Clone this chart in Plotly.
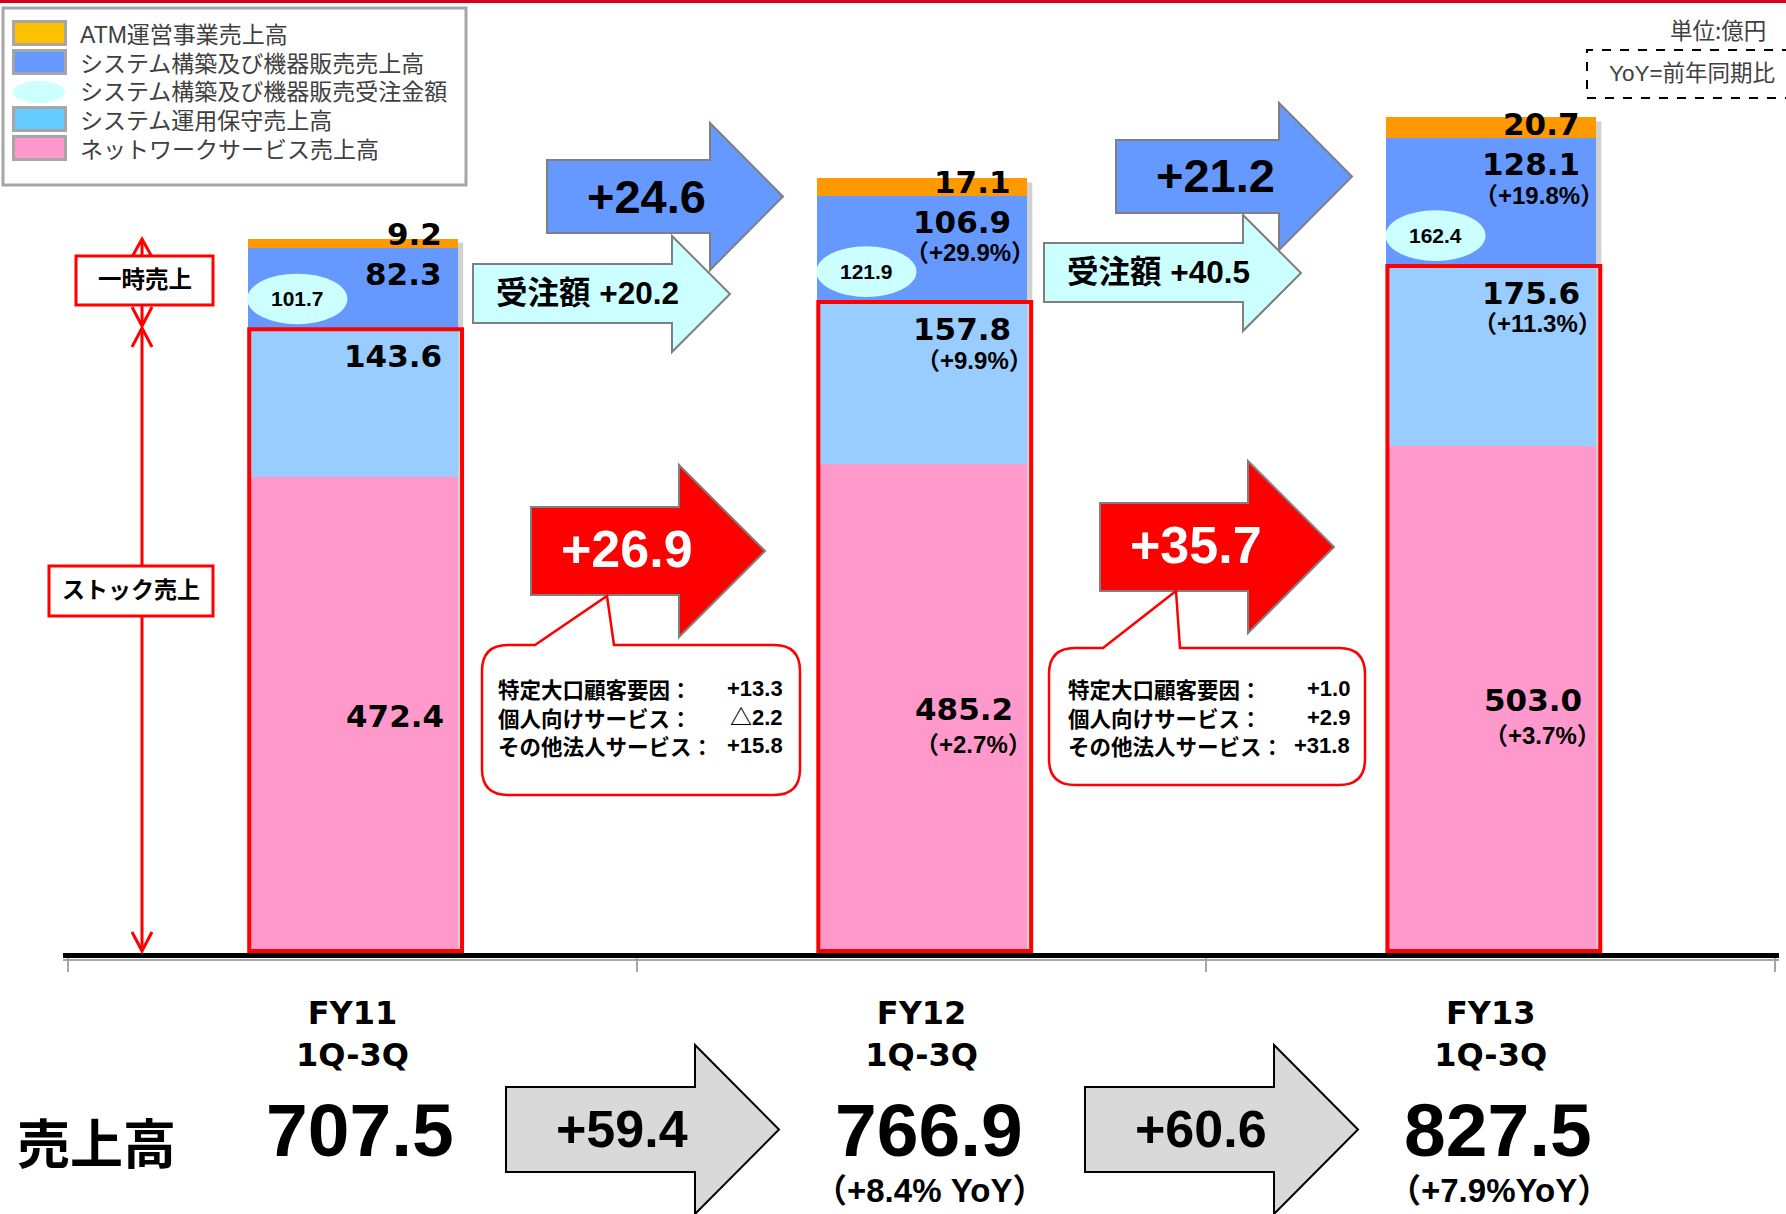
import plotly.graph_objects as go

W, H = 1786, 1214

# ---------------- data ----------------
categories = ["FY11<br>1Q-3Q", "FY12<br>1Q-3Q", "FY13<br>1Q-3Q"]
network = [472.4, 485.2, 503.0]          # ネットワークサービス売上高
maintenance = [143.6, 157.8, 175.6]      # システム運用保守売上高
system_sales = [82.3, 106.9, 128.1]      # システム構築及び機器販売売上高
atm = [9.2, 17.1, 20.7]                  # ATM運営事業売上高
orders = [101.7, 121.9, 162.4]           # システム構築及び機器販売受注金額
totals = [707.5, 766.9, 827.5]
total_yoy = [None, "+8.4% YoY", "+7.9%YoY"]
network_yoy = [None, "+2.7%", "+3.7%"]
maintenance_yoy = [None, "+9.9%", "+11.3%"]
system_yoy = [None, "+29.9%", "+19.8%"]
system_delta = [24.6, 21.2]
order_delta = [20.2, 40.5]
stock_delta = [26.9, 35.7]
total_delta = [59.4, 60.6]
breakdown_labels = ["特定大口顧客要因：", "個人向けサービス：", "その他法人サービス："]
breakdown_values = [["+13.3", "△2.2", "+15.8"], ["+1.0", "+2.9", "+31.8"]]
legend_labels = ["ATM運営事業売上高", "システム構築及び機器販売売上高",
                 "システム構築及び機器販売受注金額", "システム運用保守売上高",
                 "ネットワークサービス売上高"]

# ---------------- styles ----------------
C_ATM, C_SYS, C_MAINT, C_NET, C_ORDER = "#FF9900", "#6699FF", "#99CCFF", "#FF99CC", "#CCFFFF"
LEG_COLORS = ["#FFC000", "#6699FF", C_ORDER, "#66CCFF", "#FF99CC"]
F_NUM = "DejaVu Sans"
F_AR = "Liberation Sans, Noto Sans CJK JP"
F_JP = "Noto Sans CJK JP"
BW = 0.369

stock = [n + m for n, m in zip(network, maintenance)]
sys_top = [s + v for s, v in zip(stock, system_sales)]
bar_top = [s + a for s, a in zip(sys_top, atm)]

fig = go.Figure()
for vals, color, name in zip([network, maintenance, system_sales, atm],
                             [C_NET, C_MAINT, C_SYS, C_ATM],
                             [legend_labels[4], legend_labels[3], legend_labels[1], legend_labels[0]]):
    fig.add_trace(go.Bar(x=categories, y=vals, width=BW, name=name, showlegend=False,
                         marker=dict(color=color, line=dict(width=0)), hoverinfo="skip"))


def P(x, y):
    return f"{x / W:.5f},{1 - y / H:.5f}"


def prect(x0, y0, x1, y1, fill, line_color=None, lw=0, dash=None, layer="above"):
    line = dict(color=line_color or "rgba(0,0,0,0)", width=lw)
    if dash:
        line["dash"] = dash
    return dict(type="rect", xref="paper", yref="paper", x0=x0 / W, x1=x1 / W,
                y0=1 - y1 / H, y1=1 - y0 / H, fillcolor=fill, line=line, layer=layer)


def ppath(pts, fill, line_color, lw, closed=True):
    d = "M " + " L ".join(P(x, y) for x, y in pts) + (" Z" if closed else "")
    return dict(type="path", xref="paper", yref="paper", path=d, fillcolor=fill,
                line=dict(color=line_color, width=lw))


def block_arrow(x0, xb, xt, yt, yb, ht, hb, fill, line_color, lw, dx=0, dy=0):
    ty = (ht + hb) / 2
    pts = [(x0, yt), (xb, yt), (xb, ht), (xt, ty), (xb, hb), (xb, yb), (x0, yb)]
    return ppath([(x + dx, y + dy) for x, y in pts], fill, line_color, lw)


def ann(x, y, text, size, family, color="black", xref="paper", yref="paper",
        xanchor="center", yanchor="middle", xshift=0, yshift=0, bold=True):
    if xref == "paper":
        x = x / W
    if yref == "paper":
        y = 1 - y / H
    return dict(x=x, y=y, xref=xref, yref=yref, text=text, showarrow=False,
                xanchor=xanchor, yanchor=yanchor, xshift=xshift, yshift=yshift,
                font=dict(family=family, size=size, color=color, weight="bold" if bold else "normal"))


shapes, annotations = [], []

# top red rule
shapes.append(prect(0, 0, W, 3, "#D9001B"))

# bar shadows, stock outlines, order ellipses
for i in range(3):
    shapes.append(dict(type="rect", xref="x", yref="y", x0=i + BW / 2 - 0.004, x1=i + BW / 2 + 0.010,
                       y0=0, y1=bar_top[i] - 4, fillcolor="rgba(0,0,0,0.18)",
                       line=dict(width=0), layer="below"))
    shapes.append(dict(type="rect", xref="x", yref="y", x0=i - BW / 2 + 0.003, x1=i + BW / 2 + 0.008,
                       y0=4, y1=stock[i] + 2, fillcolor="rgba(0,0,0,0)",
                       line=dict(color="#FF0000", width=4)))
    shapes.append(dict(type="circle", xref="x", yref="y", x0=i - 0.097 - 0.088, x1=i - 0.097 + 0.088,
                       y0=stock[i] + 32 - 25, y1=stock[i] + 32 + 25, fillcolor=C_ORDER,
                       line=dict(width=0)))
    annotations.append(ann(i - 0.097, stock[i] + 32, f"{orders[i]:.1f}", 21, F_AR,
                           xref="x", yref="y"))

# baseline shadow
shapes.append(ppath([(63, 960), (1779, 960)], "rgba(0,0,0,0)", "#A6A6A6", 2, closed=False))

# bar value labels
for i in range(3):
    right = i + BW / 2
    annotations.append(ann(right, sys_top[i], f"{atm[i]:.1f}", 31, F_NUM, xref="x", yref="y",
                           xanchor="right", xshift=-14, yshift=14))
    annotations.append(ann(right, sys_top[i], f"{system_sales[i]:.1f}", 31, F_NUM, xref="x", yref="y",
                           xanchor="right", xshift=-14, yshift=-26))
    annotations.append(ann(right, stock[i], f"{maintenance[i]:.1f}", 31, F_NUM, xref="x", yref="y",
                           xanchor="right", xshift=-14, yshift=-25))
    annotations.append(ann(right, network[i] / 2, f"{network[i]:.1f}", 31, F_NUM, xref="x", yref="y",
                           xanchor="right", xshift=-12, yshift=0))
    if system_yoy[i]:
        annotations.append(ann(right, sys_top[i], f"（{system_yoy[i]}）", 24, F_AR, xref="x", yref="y",
                               xanchor="right", xshift=10, yshift=-57))
    if maintenance_yoy[i]:
        annotations.append(ann(right, stock[i], f"（{maintenance_yoy[i]}）", 24, F_AR, xref="x", yref="y",
                               xanchor="right", xshift=8, yshift=-56))
    if network_yoy[i]:
        annotations.append(ann(right, network[i] / 2, f"（{network_yoy[i]}）", 24, F_AR, xref="x", yref="y",
                               xanchor="right", xshift=7, yshift=-35))

# change arrows between bars
for k in range(2):
    dx = 569 * k
    shapes.append(block_arrow(547, 710, 783, 160, 233, 123, 270, C_SYS, "#7F7F7F", 2, dx, -20 * k))
    annotations.append(ann(646 + dx, 196 - 20 * k, f"+{system_delta[k]:.1f}", 47, F_AR))
    dx2 = 571 * k
    shapes.append(block_arrow(473, 672, 730, 264, 323, 236, 352, C_ORDER, "#7F7F7F", 2, dx2, -21 * k))
    annotations.append(ann(587 + dx2, 293 - 21 * k, f"受注額 +{order_delta[k]:.1f}", 31.5, F_AR))
    shapes.append(block_arrow(531, 679, 765, 507, 595, 465, 637, "#FF0000", "#7F7F7F", 2, dx, -4 * k))
    annotations.append(ann(627 + dx, 549 - 4 * k, f"+{stock_delta[k]:.1f}", 52, F_AR, color="white"))
    dx3 = 579 * k
    shapes.append(block_arrow(506, 695, 779, 1087, 1172, 1045, 1214, "#D9D9D9", "black", 2, dx3, 0))
    annotations.append(ann(622 + dx3, 1129, f"+{total_delta[k]:.1f}", 52, F_AR))

# callout boxes
boxes = [dict(l=482, r=800, t=645, b=795, tl=535, tr=614, ax=607, ay=596, tx=496, vx=785),
         dict(l=1049, r=1365, t=648, b=785, tl=1103, tr=1180, ax=1176, ay=591, tx=1066, vx=1352)]
for k, bx in enumerate(boxes):
    l, r, t, b, rad = bx["l"], bx["r"], bx["t"], bx["b"], 26
    d = (f"M {P(l + rad, t)} L {P(bx['tl'], t)} L {P(bx['ax'], bx['ay'])} L {P(bx['tr'], t)} "
         f"L {P(r - rad, t)} Q {P(r, t)} {P(r, t + rad)} L {P(r, b - rad)} Q {P(r, b)} {P(r - rad, b)} "
         f"L {P(l + rad, b)} Q {P(l, b)} {P(l, b - rad)} L {P(l, t + rad)} Q {P(l, t)} {P(l + rad, t)} Z")
    shapes.append(dict(type="path", xref="paper", yref="paper", path=d, fillcolor="white",
                       line=dict(color="#FF0000", width=2.5)))
    for j, (lab, val) in enumerate(zip(breakdown_labels, breakdown_values[k])):
        yy = [688, 717, 745][j]
        annotations.append(ann(bx["tx"], yy, lab, 21.5, F_JP, xanchor="left"))
        annotations.append(ann(bx["vx"], yy, val, 22, F_AR, xanchor="right"))

# left side arrows and boxes
RED = "#FF0000"
shapes.append(ppath([(142, 240), (142, 326)], "rgba(0,0,0,0)", RED, 3, closed=False))
shapes.append(ppath([(142, 328), (142, 950)], "rgba(0,0,0,0)", RED, 3, closed=False))
for pts in ([(132, 257), (142, 239), (152, 257)], [(132, 307), (142, 326), (152, 307)],
            [(132, 347), (142, 328), (152, 347)], [(132, 932), (142, 951), (152, 932)]):
    shapes.append(ppath(pts, "rgba(0,0,0,0)", RED, 3, closed=False))
shapes.append(prect(76, 256, 213, 305, "white", RED, 3))
annotations.append(ann(144.5, 277.5, "一時売上", 23.5, F_JP))
shapes.append(prect(49, 566, 213, 616, "white", RED, 3))
annotations.append(ann(131, 588, "ストック売上", 23, F_JP))

# custom legend
shapes.append(prect(3, 8, 466, 185, "white", "#A6A6A6", 3))
rows = [35, 64, 92, 121, 150]
for j, (lab, col) in enumerate(zip(legend_labels, LEG_COLORS)):
    y = rows[j]
    if j == 2:
        shapes.append(dict(type="circle", xref="paper", yref="paper", x0=13 / W, x1=65 / W,
                           y0=1 - (y + 11) / H, y1=1 - (y - 11) / H, fillcolor=col, line=dict(width=0)))
    else:
        shapes.append(prect(13.5, y - 13.5, 65.5, y + 9.5, col, "#A6A6A6", 3))
    annotations.append(ann(78, y, lab, 23, F_AR, color="#404040", xanchor="left", bold=False))

# unit & YoY note
annotations.append(ann(1768, 29, "単位:億円", 22.5, F_JP, color="#404040", xanchor="right", bold=False))
shapes.append(prect(1587, 50, 1800, 98, "rgba(0,0,0,0)", "black", 2, dash="dash"))
annotations.append(ann(1607, 74, "YoY=前年同期比", 22.5, F_AR, color="#404040", xanchor="left", bold=False))

# bottom totals
annotations.append(ann(96, 1141, "売上高", 53, F_JP))
for i in range(3):
    annotations.append(ann(i, 1130, f"{totals[i]:.1f}", 75, F_AR, xref="x", xshift=7))
    if total_yoy[i]:
        annotations.append(ann(i, 1190, f"（{total_yoy[i]}）", 33, F_AR, xref="x", xshift=8))

fig.update_layout(
    width=W, height=H, autosize=False,
    margin=dict(l=0, r=0, t=0, b=0, pad=0),
    paper_bgcolor="white", plot_bgcolor="rgba(0,0,0,0)",
    barmode="stack", showlegend=False,
    xaxis=dict(type="category", domain=[63 / W, 1779 / W], range=[-0.5087, 2.5066],
               anchor="free", position=1 - 955 / H,
               showline=True, linecolor="black", linewidth=5,
               ticks="outside", tickson="boundaries", ticklen=14, tickwidth=2, tickcolor="#A6A6A6",
               tickfont=dict(family=F_NUM, size=32, color="black", weight="bold"),
               ticklabelstandoff=28, showgrid=False, zeroline=False, fixedrange=True),
    yaxis=dict(range=[-255.8, 943.3], visible=False, domain=[0, 1], fixedrange=True),
    shapes=shapes, annotations=annotations,
)

fig.write_html("out.html", config={"displayModeBar": False},
               post_script="document.body.style.margin='0';document.body.style.overflow='hidden';")
